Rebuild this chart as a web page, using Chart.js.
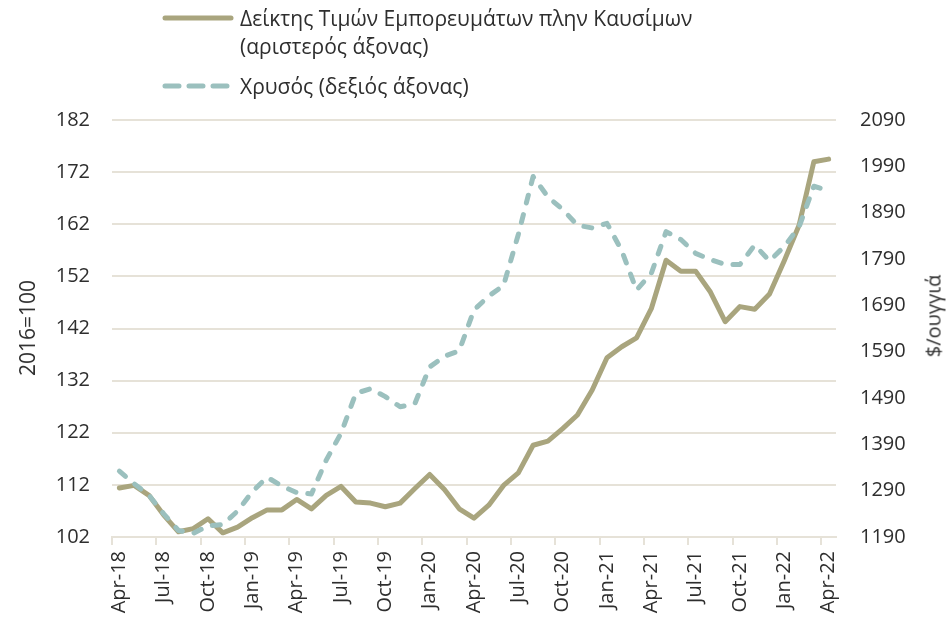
<!DOCTYPE html>
<html><head><meta charset="utf-8">
<script src="https://cdn.jsdelivr.net/npm/chart.js@4.4.1/dist/chart.umd.min.js"></script>
<style>
html,body{margin:0;padding:0;background:#fff;}
#wrap{position:relative;width:948px;height:617px;overflow:hidden;font-family:"Open Sans",sans-serif;color:#2e2e2e;}
canvas{position:absolute;left:0;top:0;}
.lg{position:absolute;font-size:21px;line-height:28px;white-space:nowrap;}
.ytitle{position:absolute;white-space:nowrap;transform:translate(-50%,-50%) rotate(-90deg);}
svg{position:absolute;left:0;top:0;}
</style></head>
<body><div id="wrap">
<canvas id="c" width="948" height="617"></canvas>
<svg width="260" height="110">
  <line x1="165" y1="18" x2="231" y2="18" stroke="#A9A57E" stroke-width="5" stroke-linecap="round"/>
  <line x1="165" y1="86" x2="228" y2="86" stroke="#9BC0BE" stroke-width="5" stroke-linecap="round" stroke-dasharray="14 10"/>
</svg>
<div class="lg" style="left:240px;top:4px;">Δείκτης Τιμών Εμπορευμάτων πλην Καυσίμων<br>(αριστερός άξονας)</div>
<div class="lg" style="left:240px;top:72px;">Χρυσός (δεξιός άξονας)</div>
<div class="ytitle" style="left:27px;top:328px;font-size:21px;">2016=100</div>
<div class="ytitle" style="left:933px;top:316px;font-size:20px;">$/ουγγιά</div>
</div>
<script>
const months = ["Apr-18","May-18","Jun-18","Jul-18","Aug-18","Sep-18","Oct-18","Nov-18","Dec-18",
"Jan-19","Feb-19","Mar-19","Apr-19","May-19","Jun-19","Jul-19","Aug-19","Sep-19","Oct-19","Nov-19","Dec-19",
"Jan-20","Feb-20","Mar-20","Apr-20","May-20","Jun-20","Jul-20","Aug-20","Sep-20","Oct-20","Nov-20","Dec-20",
"Jan-21","Feb-21","Mar-21","Apr-21","May-21","Jun-21","Jul-21","Aug-21","Sep-21","Oct-21","Nov-21","Dec-21",
"Jan-22","Feb-22","Mar-22","Apr-22"];
const commodityIndex = [111.4,111.9,110.0,106.2,103.0,103.6,105.5,102.8,103.9,105.7,107.2,107.2,109.2,107.4,110.0,111.7,
108.7,108.5,107.8,108.5,111.3,114.0,111.1,107.4,105.6,108.1,111.9,114.3,119.6,120.4,122.8,125.4,130.2,136.4,138.5,140.2,
145.8,155.1,153.0,153.0,149.0,143.3,146.2,145.7,148.6,155.0,161.8,174.0,174.5];
const gold = [1332,1305,1280,1240,1204,1198,1214,1217,1246,1288,1319,1300,1286,1283,1356,1414,1500,1510,1493,1471,1478,
1557,1580,1592,1680,1710,1733,1843,1968,1924,1897,1863,1857,1867,1808,1723,1759,1849,1832,1802,1789,1778,1778,1820,
1786,1817,1859,1947,1937];
const leftTicks = [102,112,122,132,142,152,162,172,182];
const rightTicks = [1190,1290,1390,1490,1590,1690,1790,1890,1990,2090];
const seriesNames = ["Δείκτης Τιμών Εμπορευμάτων πλην Καυσίμων (αριστερός άξονας)","Χρυσός (δεξιός άξονας)"];

const gridColor = '#E6E2D8';
const textColor = '#2e2e2e';
const tickFont = {family:'"Open Sans", sans-serif', size:20};

new Chart(document.getElementById('c'), {
  type:'line',
  data:{
    labels: months,
    datasets:[
      {label:seriesNames[0], data:commodityIndex, yAxisID:'yL', borderColor:'#A9A57E', borderWidth:5,
       pointRadius:0, tension:0, borderJoinStyle:'round', borderCapStyle:'round', order:1, fill:false},
      {label:seriesNames[1], data:gold, yAxisID:'yR', borderColor:'#9BC0BE', borderWidth:5,
       pointRadius:0, tension:0, borderDash:[8,12], borderCapStyle:'round', borderJoinStyle:'round', order:0, fill:false}
    ]
  },
  options:{
    responsive:false, animation:false, devicePixelRatio:1,
    layout:{padding:{top:120,left:0,right:0,bottom:0}},
    plugins:{legend:{display:false}, tooltip:{enabled:false}},
    scales:{
      x:{
        type:'category', offset:true,
        grid:{offset:true, drawOnChartArea:false, tickLength:8, lineWidth:2,
              color:(ctx)=> (ctx.index % 3 === 0 ? gridColor : 'rgba(0,0,0,0)')},
        border:{display:true, color:gridColor, width:2},
        ticks:{autoSkip:false, maxRotation:90, minRotation:90, padding:6, color:textColor, font:tickFont,
               callback:(v,i)=> (i % 3 === 0 ? months[i] : '')},
        afterFit:(s)=>{ s.height = 80; }
      },
      yL:{
        position:'left', min:leftTicks[0], max:leftTicks[leftTicks.length-1],
        afterBuildTicks:(s)=>{ s.ticks = leftTicks.map(v=>({value:v})); },
        grid:{color:gridColor, lineWidth:2, drawTicks:false},
        border:{display:false},
        ticks:{padding:22, color:textColor, font:tickFont, callback:(v)=>String(v)},
        afterFit:(s)=>{ s.width = 112; }
      },
      yR:{
        position:'right', min:rightTicks[0], max:rightTicks[rightTicks.length-1],
        afterBuildTicks:(s)=>{ s.ticks = rightTicks.map(v=>({value:v})); },
        grid:{drawOnChartArea:false, drawTicks:false},
        border:{display:false},
        ticks:{padding:24, color:textColor, font:tickFont, callback:(v)=>String(v)},
        afterFit:(s)=>{ s.width = 112; }
      }
    }
  }
});
</script>
</body></html>
